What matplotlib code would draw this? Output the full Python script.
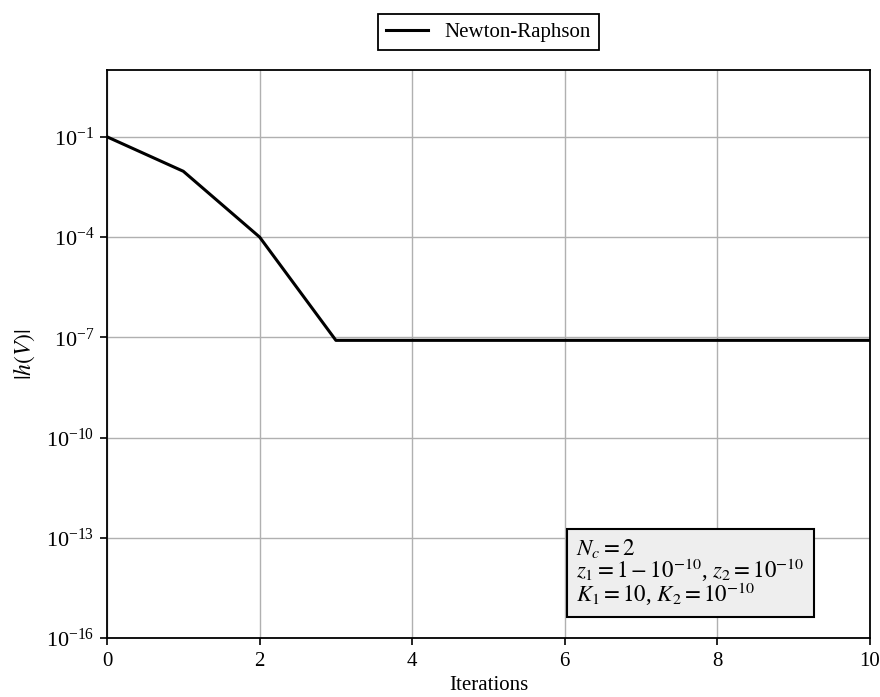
import matplotlib
matplotlib.use('Agg')
import matplotlib.pyplot as plt
import numpy as np

plt.rcParams['font.family'] = ['Liberation Serif', 'DejaVu Serif']
plt.rcParams['mathtext.fontset'] = 'stix'
plt.rcParams['font.size'] = 15

iterations = [0, 1, 2, 3, 4, 5, 6, 7, 8, 9, 10]
residual = [1e-1, 9.3e-3, 1e-4, 8.1e-8, 8.1e-8, 8.1e-8, 8.1e-8, 8.1e-8, 8.1e-8, 8.1e-8, 8.1e-8]

fig = plt.figure(figsize=(8.8, 6.97), dpi=100)
ax = fig.add_axes([0.1216, 0.0846, 0.867, 0.815])

ax.plot(iterations, residual, color='black', lw=2.2, label='Newton-Raphson')
ax.set_yscale('log')
ax.set_xlim(0, 10)
ax.set_ylim(1e-16, 1e1)
ax.set_yticks([1e-16, 1e-13, 1e-10, 1e-7, 1e-4, 1e-1])
ax.yaxis.set_minor_locator(matplotlib.ticker.NullLocator())
ax.set_xticks([0, 2, 4, 6, 8, 10])
ax.tick_params(axis='x', labelsize=15, length=5, width=1.2, pad=5)
ax.tick_params(axis='y', labelsize=16, length=5, width=1.2, pad=4)
ax.grid(True, color='#b0b0b0', lw=1)
ax.set_axisbelow(True)
for s in ax.spines.values():
    s.set_linewidth(1.3)

ax.set_xlabel('Iterations', fontsize=15, labelpad=4)
ax.set_ylabel(r'$|h(V)|$', fontsize=17, labelpad=7)

leg = ax.legend(loc='lower center', bbox_to_anchor=(0.5, 1.016), fancybox=False,
                edgecolor='black', framealpha=1, fontsize=15)
leg.get_frame().set_linewidth(1.3)

info = '$N_c = 2$\n$z_1 = 1 - 10^{-10}$, $z_2 = 10^{-10}$\n$K_1 = 10$, $K_2 = 10^{-10}$'
ax.text(0.615, 0.053, info, transform=ax.transAxes, fontsize=16.5, va='bottom', ha='left',
        linespacing=0.85,
        bbox=dict(boxstyle='square,pad=0.4', facecolor='#eeeeee', edgecolor='black', lw=1.5))

fig.savefig('out.png', dpi=100)
